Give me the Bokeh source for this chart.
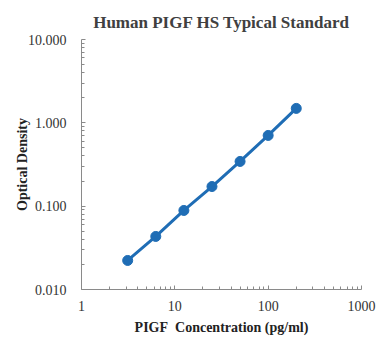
from bokeh.plotting import figure
from bokeh.models import FixedTicker, PrintfTickFormatter, ColumnDataSource
from bokeh.embed import file_html
from bokeh.resources import INLINE

conc = [3.125, 6.25, 12.5, 25, 50, 100, 200]
od = [0.0223, 0.0433, 0.0888, 0.172, 0.344, 0.706, 1.49]
x_ticks = [1, 10, 100, 1000]
y_ticks = [0.01, 0.1, 1, 10]

src = ColumnDataSource(dict(x=conc, y=od))

p = figure(frame_width=280, frame_height=250, x_axis_type="log", y_axis_type="log",
           x_range=(1, 1000), y_range=(0.01, 10),
           output_backend="svg", toolbar_location=None,
           min_border_left=81, min_border_right=16, min_border_top=39, min_border_bottom=50,
           title="Human PIGF HS Typical Standard")

p.title.align = "center"
p.title.text_font = "Liberation Serif"
p.title.text_font_size = "17px"
p.title.text_font_style = "bold"
p.title.text_color = "#404040"
p.title.standoff = 16

p.xgrid.visible = False
p.ygrid.visible = False
p.outline_line_color = None

xminor = [m * d for d in [1, 10, 100] for m in range(2, 10)]
yminor = [m * d for d in [0.01, 0.1, 1] for m in range(2, 10)]
p.xaxis.ticker = FixedTicker(ticks=x_ticks, minor_ticks=xminor)
p.yaxis.ticker = FixedTicker(ticks=y_ticks, minor_ticks=yminor)
p.yaxis.formatter = PrintfTickFormatter(format="%.3f")
p.xaxis.formatter = PrintfTickFormatter(format="%d")

for ax in (p.xaxis, p.yaxis):
    ax.axis_line_color = "#8a8a8a"
    ax.major_tick_line_color = "#8a8a8a"
    ax.minor_tick_line_color = "#8a8a8a"
    ax.major_tick_in = 4
    ax.major_tick_out = 0
    ax.minor_tick_in = 3
    ax.minor_tick_out = 0
    ax.major_label_text_font = "Liberation Serif"
    ax.major_label_text_font_size = "14px"
    ax.major_label_text_color = "#333333"
    ax.axis_label_text_font = "Liberation Serif"
    ax.axis_label_text_font_size = "14px"
    ax.axis_label_text_font_style = "bold"
    ax.axis_label_text_color = "#222222"

p.xaxis.axis_label = "PIGF\u00a0 Concentration (pg/ml)"
p.yaxis.axis_label = "Optical Density"
p.xaxis.major_label_standoff = 11
p.yaxis.major_label_standoff = 15
p.xaxis.axis_label_standoff = 6
p.yaxis.axis_label_standoff = -5

p.line("x", "y", source=src, line_color="#1f6db5", line_width=3)
p.scatter("x", "y", source=src, size=10, fill_color="#1f6db5", line_color="#1f6db5")

open("out.html", "w").write(file_html(p, INLINE))
